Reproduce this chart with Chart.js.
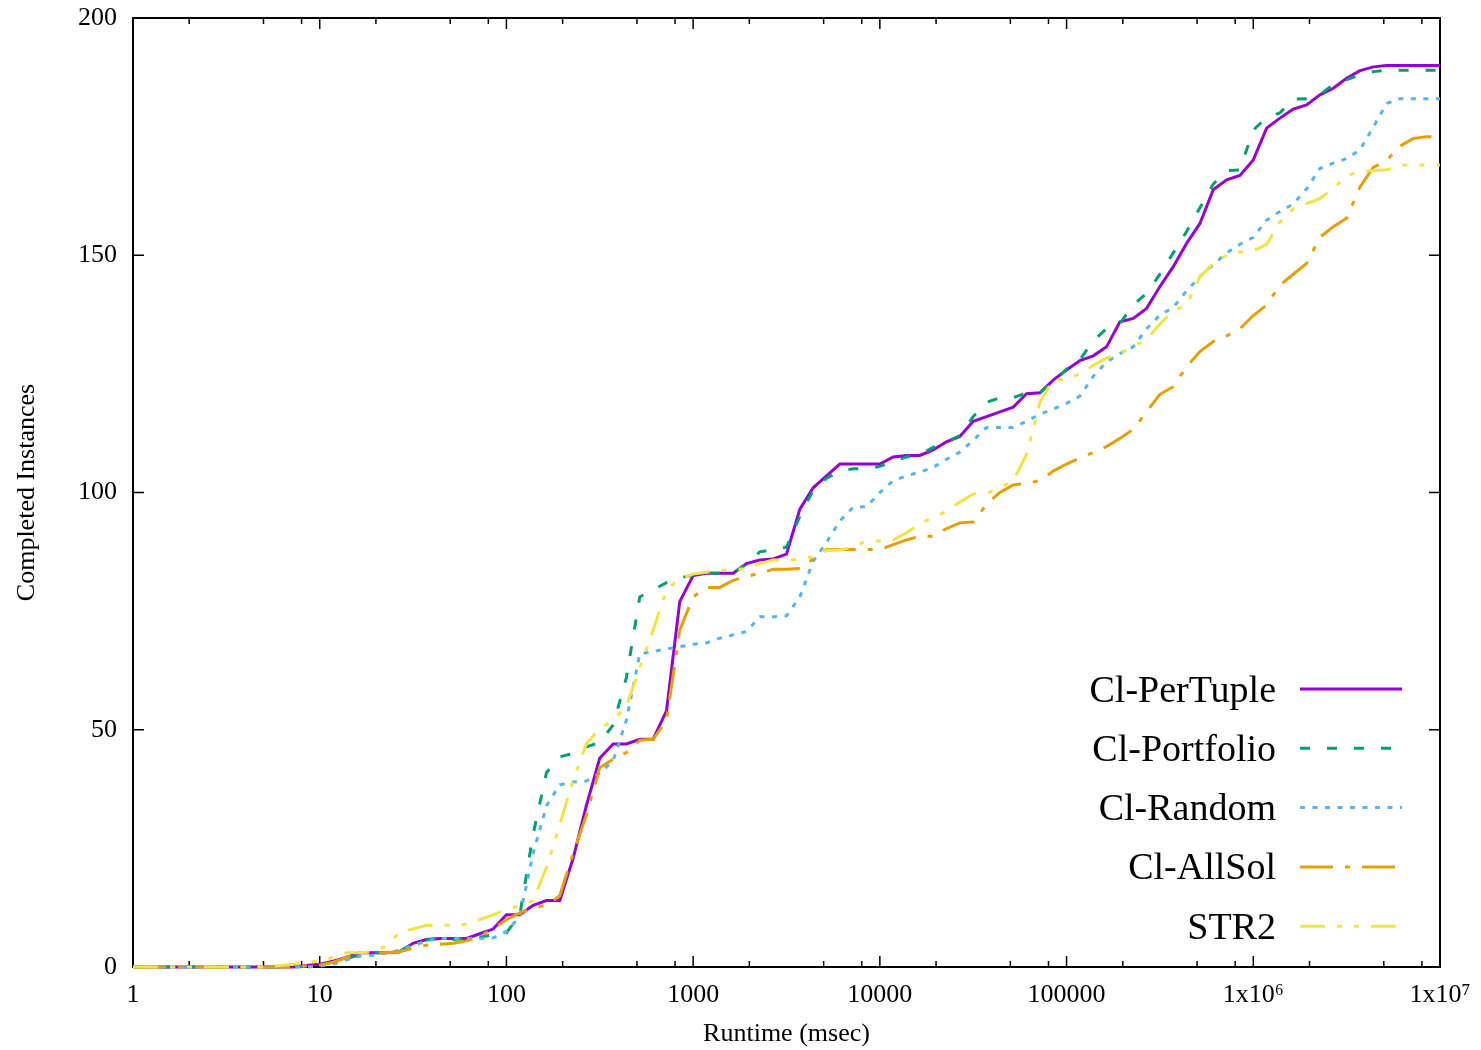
<!DOCTYPE html>
<html>
<head>
<meta charset="utf-8">
<title>Completed Instances vs Runtime</title>
<script src="https://cdn.jsdelivr.net/npm/chart.js@4.4.1/dist/chart.umd.min.js"></script>
<style>
  body { margin: 0; background: #fff; }
  canvas { display: block; }
</style>
</head>
<body>
<canvas id="chart" width="1481" height="1050"></canvas>
<script>
// sample times (msec), 14 per decade
const xValues = [1, 1.18, 1.39, 1.64, 1.93, 2.28, 2.68, 3.16, 3.73, 4.39, 5.18, 6.11, 7.2, 8.48,
  10, 11.8, 13.9, 16.4, 19.3, 22.8, 26.8, 31.6, 37.3, 43.9, 51.8, 61.1, 72, 84.8,
  100, 118, 139, 164, 193, 228, 268, 316, 373, 439, 518, 611, 720, 848,
  1000, 1179, 1389, 1638, 1931, 2276, 2683, 3162, 3728, 4394, 5179, 6105, 7197, 8483,
  10000, 11788, 13895, 16379, 19307, 22758, 26827, 31623, 37276, 43940, 51795, 61054, 71969, 84834,
  100000, 117877, 138950, 163789, 193070, 227585, 268270, 316228, 372759, 439397, 517947, 610540, 719686, 848343,
  1000000, 1178769, 1389495, 1637894, 1930698, 2275846, 2682696, 3162278, 3727594, 4393971, 5179475, 6105402, 7196857, 8483429,
  10000000];

const perTuple = [0, 0, 0, 0, 0, 0, 0, 0, 0, 0, 0, 0, 0, 0.3,
  0.6, 1.2, 2, 3, 3, 3, 3.2, 5, 5.8, 6, 6, 6, 7, 8,
  11, 11, 13, 14, 14, 23, 34, 44, 47, 47, 48, 48, 54, 77,
  82.5, 83, 83, 83, 85, 85.8, 86, 87, 96.5, 101, 103.5, 106, 106, 106,
  106, 107.5, 107.8, 107.8, 109, 110.7, 111.8, 115, 116, 117, 118, 120.8, 121, 123.7,
  125.8, 127.8, 128.8, 130.7, 136, 136.7, 138.8, 143.4, 147.6, 152.5, 156.7, 163.8, 165.9, 166.8,
  170.1, 176.8, 178.9, 180.8, 181.7, 183.8, 185.2, 187.3, 188.9, 189.7, 190, 190, 190, 190,
  190];

const portfolio = [0, 0, 0, 0, 0, 0, 0, 0, 0, 0, 0, 0, 0, 0.2,
  0.5, 1, 1.8, 2.5, 3, 3, 3.2, 5, 5.7, 6, 5.8, 6, 6.3, 6.8,
  7.2, 11, 28, 41, 44.3, 45, 46.4, 47.3, 51, 61, 78, 79.5, 81, 82,
  82.6, 83, 83, 83, 85, 87.5, 88, 88.5, 95, 100.5, 103, 104.5, 105, 105,
  105.5, 106.5, 107.5, 108, 109.5, 110.7, 112, 116, 119, 120, 120, 121, 121, 123.4,
  126, 128, 132, 134.5, 135.6, 139.5, 142, 146, 150.5, 155, 160, 165, 167.8, 168,
  176.4, 179, 180, 182.9, 183, 183.8, 186, 187, 188, 188.7, 189, 189, 189, 189,
  189];

const random = [0, 0, 0, 0, 0, 0, 0, 0, 0, 0, 0, 0, 0, 0,
  0.2, 0.6, 1.5, 2.3, 2.5, 3, 3.5, 4.5, 5.5, 6, 6, 6, 6, 6.1,
  7.5, 10.6, 24, 34, 38.4, 39, 39.2, 40.8, 43.5, 52, 66, 66.5, 67, 67.5,
  68, 68.3, 69.3, 70, 70.7, 73.8, 73.8, 74, 78, 85.5, 89.5, 94, 96.9, 97,
  100, 102.5, 103.5, 104.3, 105.3, 107, 108.5, 111, 113.7, 113.7, 113.7, 115, 116.5, 117.6,
  118.8, 120.3, 124.5, 127.5, 129.3, 130.7, 134.5, 137.4, 139, 142.5, 145.5, 148, 150.5, 152.3,
  153.8, 157.4, 159.2, 160.8, 164, 168.3, 169.4, 170.4, 172.2, 177, 182, 183, 183, 183,
  183];

const allSol = [0, 0, 0, 0, 0, 0, 0, 0, 0, 0, 0, 0, 0, 0.2,
  0.4, 1, 2, 3, 3, 3, 3.2, 4, 4.6, 4.8, 5, 5.5, 6.5, 8,
  10, 11.4, 12.5, 13, 15, 24, 32, 42, 43.8, 45.2, 47.8, 48, 52, 71,
  78, 80, 80, 81.5, 82.3, 83, 83.8, 83.8, 84, 86, 88, 88, 88, 88,
  88, 89, 90, 90.8, 90.8, 92.4, 93.6, 93.8, 97.5, 100, 101.6, 101.9, 102.5, 104.5,
  106, 107.3, 108.4, 109.7, 111.4, 113.3, 117, 120.7, 122.3, 126.5, 129.7, 131.8, 133, 134.5,
  137.3, 139.5, 143.7, 146, 148.3, 153.8, 156, 157.8, 164.4, 168.5, 170, 173, 174.6, 175,
  175];

const str2 = [0, 0, 0, 0, 0, 0, 0, 0, 0, 0, 0, 0.3, 0.6, 1,
  1.3, 2, 3, 3, 3.2, 4.5, 7.3, 8, 8.8, 8.8, 8.8, 9, 10, 11,
  12.2, 12.9, 14, 21, 30, 39.4, 47, 50.3, 52, 55, 63, 71, 79.5, 81.8,
  82.8, 83.2, 83.6, 83.7, 84, 85, 85.8, 85.8, 85.9, 86.5, 87.8, 87.9, 88.5, 89.8,
  89.8, 90, 91.5, 93.4, 94.8, 96, 98, 99.7, 99.8, 101, 102.5, 108, 119, 123.8,
  123.8, 125, 126.8, 128.3, 129.3, 130.8, 132.3, 135.5, 138.3, 139.5, 145.5, 148.3, 150, 150.7,
  150.9, 152.3, 157, 159.8, 160.9, 162, 164, 166.8, 167.6, 167.8, 168, 169, 169, 169,
  169];

const seriesNames = ['Cl-PerTuple', 'Cl-Portfolio', 'Cl-Random', 'Cl-AllSol', 'STR2'];
const seriesValues = [perTuple, portfolio, random, allSol, str2];
const seriesColors = ['#9400d3', '#009e73', '#56b4e9', '#e69f00', '#f0e442'];
const seriesDashes = [[], [10, 17], [5, 7.5], [33, 12, 5, 12], [25, 12, 5, 12, 5, 12]];

const yTickValues = [0, 50, 100, 150, 200];
const xTickValues = [1, 10, 100, 1000, 10000, 100000, 1000000, 10000000];
const xTickLabels = ['1', '10', '100', '1000', '10000', '100000', '1x10\u2076', '1x10\u2077'];
const xMinorTicks = [2, 5, 8, 20, 50, 80, 200, 500, 800, 2000, 5000, 8000,
  20000, 50000, 80000, 200000, 500000, 800000, 2000000, 5000000, 8000000];

const serif = '"Liberation Serif", "Times New Roman", serif';

// border + inward ticks on all four sides, gnuplot style
const frameAndTicks = {
  id: 'frameAndTicks',
  beforeDatasetsDraw(chart) {
    const ctx = chart.ctx;
    const a = chart.chartArea;
    const x = chart.scales.x, y = chart.scales.y;
    ctx.save();
    ctx.strokeStyle = '#000';
    ctx.lineWidth = 1.5;
    ctx.beginPath();
    yTickValues.forEach(v => {
      const p = y.getPixelForValue(v);
      ctx.moveTo(a.left, p); ctx.lineTo(a.left + 11, p);
      ctx.moveTo(a.right, p); ctx.lineTo(a.right - 11, p);
    });
    xTickValues.forEach(v => {
      const p = x.getPixelForValue(v);
      ctx.moveTo(p, a.bottom); ctx.lineTo(p, a.bottom - 11);
      ctx.moveTo(p, a.top); ctx.lineTo(p, a.top + 11);
    });
    xMinorTicks.forEach(v => {
      const p = x.getPixelForValue(v);
      ctx.moveTo(p, a.bottom); ctx.lineTo(p, a.bottom - 6);
      ctx.moveTo(p, a.top); ctx.lineTo(p, a.top + 6);
    });
    ctx.stroke();
    ctx.lineWidth = 2;
    ctx.strokeRect(a.left, a.top, a.right - a.left, a.bottom - a.top);
    ctx.restore();
  }
};

// key in the lower right, text right-aligned then line sample
const keyBox = {
  id: 'keyBox',
  afterDraw(chart) {
    const ctx = chart.ctx;
    const a = chart.chartArea;
    const textRight = a.right - 164;
    const lineStart = a.right - 140, lineEnd = a.right - 38;
    ctx.save();
    ctx.font = '38px ' + serif;
    ctx.textAlign = 'right';
    ctx.textBaseline = 'alphabetic';
    chart.data.datasets.forEach((ds, i) => {
      const rowY = a.bottom - 278 + i * 59.3;
      ctx.fillStyle = '#000';
      ctx.fillText(ds.label, textRight, rowY + 12.5);
      ctx.strokeStyle = ds.borderColor;
      ctx.lineWidth = 3;
      ctx.setLineDash(ds.borderDash);
      ctx.beginPath();
      ctx.moveTo(lineStart, rowY);
      ctx.lineTo(lineEnd, rowY);
      ctx.stroke();
    });
    ctx.restore();
  }
};

const datasets = seriesNames.map((name, i) => ({
  label: name,
  data: xValues.map((xv, j) => ({ x: xv, y: seriesValues[i][j] })),
  borderColor: seriesColors[i],
  borderDash: seriesDashes[i],
  borderWidth: 3,
  pointRadius: 0,
  tension: 0,
  fill: false,
  clip: 3,
  order: seriesNames.length - i
}));

new Chart(document.getElementById('chart'), {
  type: 'line',
  data: { datasets: datasets },
  options: {
    responsive: false,
    animation: false,
    devicePixelRatio: 1,
    layout: { padding: { top: 18, right: 41, left: 0, bottom: 0 } },
    plugins: { legend: { display: false }, tooltip: { enabled: false } },
    scales: {
      x: {
        type: 'logarithmic',
        min: 1,
        max: 10000000,
        grid: { display: false, drawTicks: false },
        border: { display: false },
        afterBuildTicks: s => { s.ticks = xTickValues.map(v => ({ value: v })); },
        afterFit: s => { s.height = 83; s.paddingLeft = 0; s.paddingRight = 0; },
        ticks: {
          autoSkip: false,
          maxRotation: 0,
          padding: 13,
          color: '#000',
          font: { family: serif, size: 26 },
          callback: (v, i) => xTickLabels[i]
        },
        title: {
          display: true,
          text: 'Runtime (msec)',
          color: '#000',
          font: { family: serif, size: 26 },
          padding: { top: 0, bottom: 0 }
        }
      },
      y: {
        min: 0,
        max: 200,
        grid: { display: false, drawTicks: false },
        border: { display: false },
        afterBuildTicks: s => { s.ticks = yTickValues.map(v => ({ value: v })); },
        afterFit: s => { s.width = 133; s.paddingTop = 0; s.paddingBottom = 0; },
        ticks: {
          padding: 16,
          color: '#000',
          font: { family: serif, size: 26 }
        },
        title: {
          display: true,
          text: 'Completed Instances',
          color: '#000',
          font: { family: serif, size: 26 },
          padding: { top: 12, bottom: 0 }
        }
      }
    }
  },
  plugins: [frameAndTicks, keyBox]
});
</script>
</body>
</html>
